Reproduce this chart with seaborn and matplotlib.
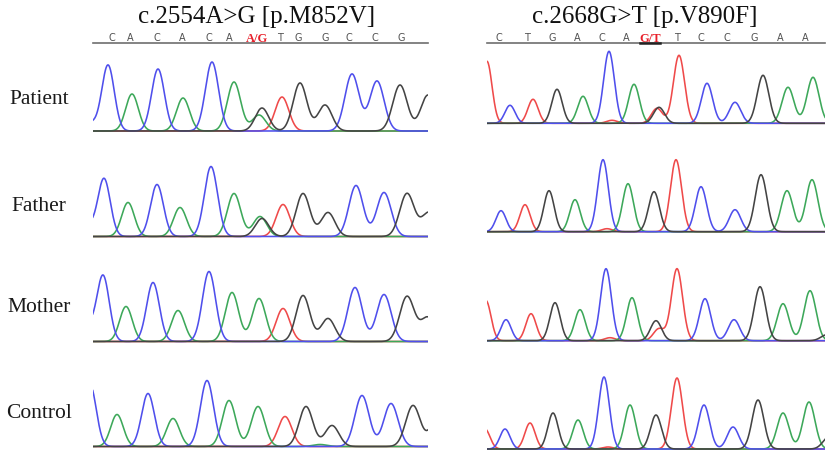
import numpy as np
import pandas as pd
import matplotlib
matplotlib.use("Agg")
import matplotlib.pyplot as plt
import seaborn as sns

# peak calls: (base, scan position, peak height)
# scan position = pixels from the left edge of each panel, height in pixels
patient_left = [("C", -3, 8), ("C", 15, 66), ("A", 39, 37), ("C", 65, 62), ("A", 90, 33),
                ("C", 119, 69), ("A", 141, 49), ("A", 166, 16), ("G", 169, 23), ("T", 189, 34),
                ("G", 207, 48), ("G", 232, 26), ("C", 259, 57), ("C", 284, 50), ("G", 307, 46),
                ("G", 335, 36)]
father_left = [("C", -6, 12), ("C", 11, 58), ("A", 35, 34), ("C", 64, 52), ("A", 87, 29),
               ("C", 118, 70), ("A", 141, 43), ("A", 167, 20), ("G", 169, 18), ("T", 190, 32),
               ("G", 210, 43), ("G", 235, 24), ("C", 263, 51), ("C", 291, 44), ("G", 314, 43),
               ("G", 336, 24)]
mother_left = [("C", -6, 16), ("C", 10, 66), ("A", 33, 35), ("C", 60, 59), ("A", 85, 31),
               ("C", 116, 70), ("A", 139, 49), ("A", 166, 43), ("T", 190, 33), ("G", 210, 46),
               ("G", 235, 23), ("C", 262, 54), ("C", 291, 47), ("G", 314, 45), ("G", 335, 24)]
control_left = [("C", -3, 62), ("A", 24, 32), ("C", 55, 53), ("A", 80, 28), ("C", 114, 66),
                ("A", 136, 46), ("A", 165, 40), ("T", 192, 30), ("G", 213, 40), ("G", 239, 21),
                ("A", 227, 2), ("C", 269, 51), ("C", 298, 43), ("G", 320, 41), ("G", 345, 30)]

patient_right = [("T", 0, 62), ("C", 23, 18), ("T", 46, 24), ("G", 70, 34), ("A", 96, 27),
                 ("C", 122, 72), ("T", 125, 3), ("A", 147, 39), ("T", 170, 15), ("G", 172, 16),
                 ("T", 192, 68), ("C", 220, 40), ("C", 248, 21), ("G", 276, 48), ("A", 301, 36),
                 ("A", 326, 46)]
father_right = [("C", 14, 21), ("T", 38, 27), ("G", 62, 41), ("A", 88, 32), ("C", 116, 72),
                ("T", 120, 3), ("A", 141, 48), ("G", 167, 40), ("T", 189, 72), ("C", 214, 45),
                ("C", 248, 22), ("G", 274, 57), ("A", 300, 41), ("A", 325, 52)]
mother_right = [("T", -1, 40), ("C", 19, 21), ("T", 44, 27), ("G", 68, 38), ("A", 93, 31),
                ("C", 119, 72), ("T", 123, 3), ("A", 145, 43), ("G", 169, 20), ("T", 172, 12),
                ("T", 190, 72), ("C", 218, 42), ("C", 247, 21), ("G", 273, 54), ("A", 296, 37),
                ("A", 323, 50), ("G", 340, 6)]
control_right = [("T", -2, 20), ("C", 18, 20), ("T", 43, 26), ("G", 66, 36), ("A", 91, 29),
                 ("C", 117, 72), ("T", 121, 2), ("A", 143, 44), ("G", 169, 34), ("T", 190, 71),
                 ("C", 217, 44), ("C", 246, 22), ("G", 271, 49), ("A", 296, 36), ("A", 322, 47),
                 ("G", 342, 12)]

# reference sequence above each panel
seq_left = ["C", "A", "C", "A", "C", "A", "A/G", "T", "G", "G", "C", "C", "G"]
seq_left_pos = [18.7, 37.7, 63.7, 89.7, 116.3, 136.3, 163.7, 187, 205.3, 232, 256.3, 282, 308.7]
seq_right = ["C", "T", "G", "A", "C", "A", "G/T", "T", "C", "C", "G", "A", "A"]
seq_right_pos = [12, 40.3, 65.3, 90.3, 115.3, 139.7, 163, 189.7, 213.7, 240.3, 267, 293, 318.7]

titles = ["c.2554A>G [p.M852V]", "c.2668G>T [p.V890F]"]
samples = ["Patient", "Father", "Mother", "Control"]

base_colors = {"A": "#3da85a", "C": "#4f4fec", "G": "#444444", "T": "#ef4a4a"}

W, H = 829, 454
fig = plt.figure(figsize=(W / 100, H / 100), dpi=100)
fig.patch.set_facecolor("white")


def px_axes(x0, x1, y_top, y_bot):
    return fig.add_axes([x0 / W, 1 - y_bot / H, (x1 - x0) / W, (y_bot - y_top) / H])


def trace_frame(peaks, span, s0, s1):
    scan = np.linspace(-6, span + 8, 1500)
    rows = []
    for b in ["T", "A", "C", "G"]:
        sig = np.zeros_like(scan)
        for base, pos, amp in peaks:
            if base == b:
                s = s0 + (s1 - s0) * pos / span
                sig += amp * np.exp(-(scan - pos) ** 2 / (2 * s * s))
        rows.append(pd.DataFrame({"scan": scan, "signal": sig, "base": b}))
    return pd.concat(rows, ignore_index=True)


panels = [
    dict(x0=93, x1=428, span=335, s=(6.2, 7.3), line_y=43,
         rows=[patient_left, father_left, mother_left, control_left],
         base_y=[131, 236.5, 341.5, 446.5], seq=seq_left, seq_pos=seq_left_pos,
         title_x=256.5),
    dict(x0=487, x1=825, span=338, s=(5.0, 6.0), line_y=43,
         rows=[patient_right, father_right, mother_right, control_right],
         base_y=[123.3, 231.7, 340.7, 449], seq=seq_right, seq_pos=seq_right_pos,
         title_x=645),
]

for k, p in enumerate(panels):
    for peaks, yb in zip(p["rows"], p["base_y"]):
        ax = px_axes(p["x0"], p["x1"], yb - 80, yb + 2)
        df = trace_frame(peaks, p["span"], *p["s"])
        sns.lineplot(data=df, x="scan", y="signal", hue="base",
                     hue_order=["T", "A", "C", "G"], palette=base_colors,
                     sort=False, estimator=None, linewidth=1.15, legend=False, ax=ax)
        ax.set_xlim(0, p["span"])
        ax.set_ylim(-2, 80)
        ax.axis("off")

    # sequence header
    hax = px_axes(p["x0"] - 3, p["x1"] + 3, 28, 48)
    hax.set_xlim(-3, p["span"] + 3)
    hax.set_ylim(48, 28)
    hax.axis("off")
    hax.plot([0, p["span"]], [p["line_y"], p["line_y"]], color="#6e6e6e", lw=1.2)
    for lab, pos in zip(p["seq"], p["seq_pos"]):
        if "/" in lab:
            hax.text(pos, 39.3, lab, color="#e8202a", fontsize=9, fontweight="bold",
                     family="Liberation Serif", ha="center", va="center")
            if k == 1:
                hax.plot([pos - 10, pos + 10], [p["line_y"], p["line_y"]],
                         color="#222222", lw=1.8)
        else:
            hax.text(pos, 38.3, lab, color="#505050", fontsize=7,
                     family="DejaVu Sans", ha="center", va="center")

    fig.text(p["title_x"] / W, 1 - 23 / H, titles[k], fontsize=18,
             family="Liberation Serif", ha="center", va="baseline", color="#111111")

for name, yc in zip(samples, [100, 206.7, 307.7, 413.3]):
    fig.text(39 / W, 1 - yc / H, name, fontsize=15.5, family="Liberation Serif",
             ha="center", va="center", color="#1a1a1a")

fig.savefig("out.png", dpi=100, facecolor="white")
